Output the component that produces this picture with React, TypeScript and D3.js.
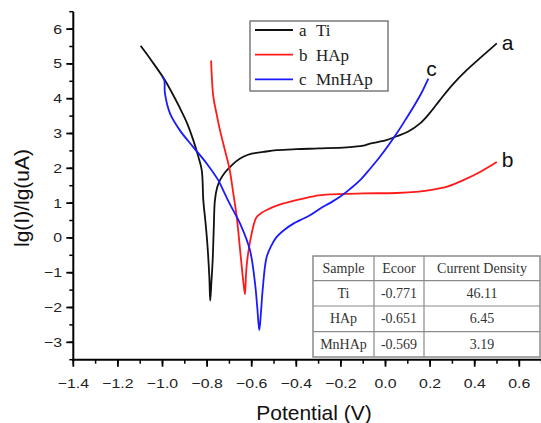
import React from "react";
import * as d3 from "d3";

// ---- data ----
const tiPotential = [-1.098, -1.05, -0.996, -0.96, -0.921, -0.89, -0.862, -0.84, -0.824, -0.817, -0.808, -0.799, -0.79, -0.786, -0.781, -0.775, -0.77, -0.765, -0.755, -0.742, -0.72, -0.697, -0.67, -0.638, -0.6, -0.548, -0.488, -0.4, -0.3, -0.174, -0.1, -0.07, 0.0, 0.05, 0.1, 0.155, 0.2, 0.244, 0.3, 0.364, 0.43, 0.499];
const tiLogI = [5.52, 5.1, 4.6, 4.2, 3.72, 3.3, 2.81, 2.35, 1.95, 1.08, 0.5, -0.16, -1.12, -1.8, -1.3, -0.64, 0.3, 1.08, 1.45, 1.66, 1.88, 2.04, 2.2, 2.33, 2.42, 2.47, 2.52, 2.55, 2.57, 2.6, 2.65, 2.71, 2.8, 2.92, 3.05, 3.29, 3.6, 3.96, 4.4, 4.82, 5.2, 5.59];

const hapPotential = [-0.782, -0.772, -0.757, -0.742, -0.72, -0.705, -0.697, -0.683, -0.667, -0.652, -0.64, -0.633, -0.63, -0.625, -0.62, -0.61, -0.6, -0.59, -0.578, -0.555, -0.533, -0.5, -0.458, -0.41, -0.369, -0.3, -0.249, -0.1, 0.05, 0.15, 0.2, 0.28, 0.349, 0.42, 0.499];
const hapLogI = [5.1, 4.05, 3.55, 3.09, 2.52, 2.14, 1.9, 1.3, 0.6, -0.35, -1.12, -1.5, -1.62, -1.0, -0.64, -0.2, 0.13, 0.4, 0.6, 0.72, 0.8, 0.9, 0.99, 1.07, 1.13, 1.22, 1.25, 1.28, 1.29, 1.33, 1.37, 1.48, 1.66, 1.88, 2.18];

const mnhapPotential = [-1.001, -0.992, -0.989, -0.966, -0.922, -0.862, -0.802, -0.75, -0.742, -0.7, -0.652, -0.608, -0.585, -0.575, -0.566, -0.558, -0.551, -0.533, -0.51, -0.488, -0.45, -0.413, -0.383, -0.339, -0.294, -0.25, -0.204, -0.16, -0.114, -0.07, -0.025, 0.05, 0.09, 0.125, 0.16, 0.192];
const mnhapLogI = [4.63, 4.53, 4.15, 3.57, 3.09, 2.61, 2.14, 1.66, 1.56, 1.0, 0.41, -0.35, -1.31, -2.0, -2.65, -2.1, -1.5, -0.55, -0.2, 0.03, 0.25, 0.41, 0.51, 0.65, 0.84, 1.0, 1.18, 1.4, 1.66, 1.98, 2.33, 3.0, 3.4, 3.76, 4.15, 4.58];

const curveKeys = ["a", "b", "c"];
const sampleNames = ["Ti", "HAp", "MnHAp"];
const curveColors = ["#111111", "#ff1a1a", "#1a1aff"];

const xTicks = [-1.4, -1.2, -1.0, -0.8, -0.6, -0.4, -0.2, 0.0, 0.2, 0.4, 0.6];
const yTicks = [-3, -2, -1, 0, 1, 2, 3, 4, 5, 6];

const tableHeader = ["Sample", "Ecoor", "Current Density"];
const ecoorValues = ["-0.771", "-0.651", "-0.569"];
const currentDensityValues = ["46.11", "6.45", "3.19"];

const W = 541;
const H = 423;

export default function App() {
  const x = d3.scaleLinear().domain([-1.4, 0.7]).range([73.3, 541.6]);
  const y = d3.scaleLinear().domain([-3.5, 6.5]).range([359.7, 11.7]);

  const series = [
    { xs: tiPotential, ys: tiLogI },
    { xs: hapPotential, ys: hapLogI },
    { xs: mnhapPotential, ys: mnhapLogI },
  ];

  const line = d3
    .line<[number, number]>()
    .x((d) => x(d[0]))
    .y((d) => y(d[1]))
    .curve(d3.curveCatmullRom.alpha(0.5));

  const fmtX = d3.format(".1f");
  const minorX = d3.range(-1.4, 0.71, 0.1).map((v) => +v.toFixed(2));
  const minorY = d3.range(-3.5, 6.51, 0.5).map((v) => +v.toFixed(2));

  const x0 = x(-1.4);
  const yb = y(-3.5);

  // label offsets relative to end of each series
  const endLabelOffsets = [
    [5, 7],
    [5, 5],
    [-2, -3],
  ];

  // table geometry
  const tLeft = 313, tTop = 256, tRight = 540, tBottom = 357;
  const colEdges = [tLeft, 374, 424, tRight];
  const rowEdges = [tTop, 280.7, 306, 331.7, tBottom];
  const tableRows = [
    tableHeader,
    ...sampleNames.map((s, i) => [s, ecoorValues[i], currentDensityValues[i]]),
  ];

  const sans = "'Liberation Sans', Arial, Helvetica, sans-serif";
  const serif = "'Liberation Serif', 'Times New Roman', serif";

  return (
    <svg
      width={W}
      height={H}
      style={{ position: "absolute", left: 0, top: 0, background: "#fff" }}
      viewBox={`0 0 ${W} ${H}`}
    >
      <rect x={0} y={0} width={W} height={H} fill="#ffffff" />

      {/* curves */}
      {series.map((s, i) => (
        <path
          key={i}
          d={line(s.xs.map((v, j) => [v, s.ys[j]] as [number, number])) || ""}
          fill="none"
          stroke={curveColors[i]}
          strokeWidth={1.8}
          strokeLinejoin="round"
        />
      ))}

      {/* curve end labels */}
      {series.map((s, i) => {
        const n = s.xs.length - 1;
        return (
          <text
            key={i}
            x={x(s.xs[n]) + endLabelOffsets[i][0]}
            y={y(s.ys[n]) + endLabelOffsets[i][1]}
            fontFamily={sans}
            fontSize={21}
            fill="#111"
          >
            {curveKeys[i]}
          </text>
        );
      })}

      {/* axes */}
      <line x1={x0} x2={x0} y1={y(6.5)} y2={yb + 1} stroke="#000" strokeWidth={2} />
      <line x1={x0 - 1} x2={W} y1={yb} y2={yb} stroke="#000" strokeWidth={2} />

      {minorX.map((v, i) => (
        <line key={"mx" + i} x1={x(v)} x2={x(v)} y1={yb} y2={yb + 4} stroke="#000" strokeWidth={1.5} />
      ))}
      {xTicks.map((v, i) => (
        <g key={"xt" + i}>
          <line x1={x(v)} x2={x(v)} y1={yb} y2={yb + 7} stroke="#000" strokeWidth={1.8} />
          <text
            transform={`translate(${x(v)},388) scale(1.22,1)`}
            textAnchor="middle"
            fontFamily={sans}
            fontSize={13}
            fill="#222"
          >
            {fmtX(v)}
          </text>
        </g>
      ))}

      {minorY.map((v, i) => (
        <line key={"my" + i} x1={x0 - 4} x2={x0} y1={y(v)} y2={y(v)} stroke="#000" strokeWidth={1.5} />
      ))}
      {yTicks.map((v, i) => (
        <g key={"yt" + i}>
          <line x1={x0 - 7} x2={x0} y1={y(v)} y2={y(v)} stroke="#000" strokeWidth={1.8} />
          <text
            transform={`translate(62,${y(v) + 4.5}) scale(1.22,1)`}
            textAnchor="end"
            fontFamily={sans}
            fontSize={13}
            fill="#222"
          >
            {d3.format("d")(v)}
          </text>
        </g>
      ))}

      {/* axis titles */}
      <text x={314} y={420} textAnchor="middle" fontFamily={sans} fontSize={21} fill="#111">
        Potential (V)
      </text>
      <text
        transform="translate(29,198) rotate(-90)"
        textAnchor="middle"
        fontFamily={sans}
        fontSize={21}
        fill="#111"
      >
        lg(I)/lg(uA)
      </text>

      {/* legend */}
      <rect x={250} y={21} width={138} height={70} fill="#fff" stroke="#666" strokeWidth={1.3} />
      {curveKeys.map((k, i) => {
        const ly = 30 + i * 24.7;
        return (
          <g key={"lg" + i}>
            <line x1={255} x2={293} y1={ly} y2={ly} stroke={curveColors[i]} strokeWidth={1.8} />
            <text x={299} y={ly + 6} fontFamily={serif} fontSize={17} fill="#222">
              {k}
            </text>
            <text x={316} y={ly + 6} fontFamily={serif} fontSize={17} fill="#222">
              {sampleNames[i]}
            </text>
          </g>
        );
      })}

      {/* table */}
      <rect x={tLeft} y={tTop} width={tRight - tLeft} height={tBottom - tTop} fill="#fff" stroke="#8a8a8a" strokeWidth={1.5} />
      {rowEdges.slice(1, -1).map((ry, i) => (
        <line key={"rl" + i} x1={tLeft} x2={tRight} y1={ry} y2={ry} stroke="#8a8a8a" strokeWidth={1.2} />
      ))}
      {colEdges.slice(1, -1).map((cx, i) => (
        <line key={"cl" + i} x1={cx} x2={cx} y1={tTop} y2={tBottom} stroke="#8a8a8a" strokeWidth={1.2} />
      ))}
      {tableRows.map((row, r) =>
        row.map((cell, c) => (
          <text
            key={`tc${r}-${c}`}
            x={(colEdges[c] + colEdges[c + 1]) / 2}
            y={(rowEdges[r] + rowEdges[r + 1]) / 2 + 4.5}
            textAnchor="middle"
            fontFamily={serif}
            fontSize={14}
            fill="#333"
          >
            {cell}
          </text>
        ))
      )}
    </svg>
  );
}
